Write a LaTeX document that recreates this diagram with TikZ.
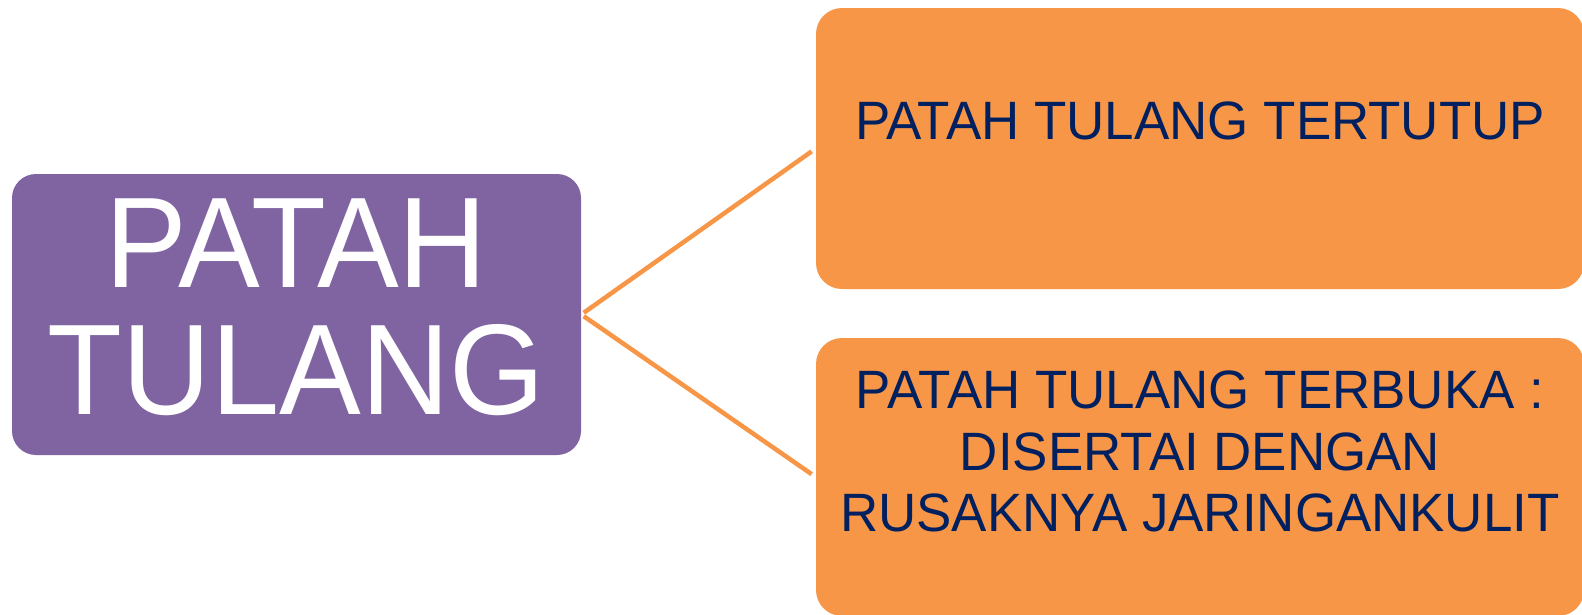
\documentclass[tikz,border=0pt]{standalone}
\usepackage{xcolor}
\usepackage{fontspec}
\usepackage{tikz}
\usetikzlibrary{calc}
\usetikzlibrary{positioning}
\newfontfamily\arialfont[FakeStretch=0.98]{Liberation Sans}
\newfontfamily\arialbigfont[FakeStretch=0.95]{Liberation Sans}
\definecolor{boxpurple}{HTML}{8064A2}
\definecolor{boxorange}{HTML}{F79646}
\definecolor{textnavy}{HTML}{002060}

\begin{document}
\begin{tikzpicture}[x=1pt,y=-1pt,semithick]
				\tikzstyle{mainbox}=[rectangle, rounded corners=24pt, fill=boxpurple, draw=none, minimum width=569pt, minimum height=281pt, inner sep=0pt]
				\tikzstyle{subbox}=[rectangle, rounded corners=26pt, fill=boxorange, draw=none, minimum width=768pt, inner sep=0pt]
				\tikzstyle{maintext}=[inner sep=0pt, align=center, text=white, font=\arialbigfont\fontsize{129}{127}\selectfont]
				\tikzstyle{subtext}=[inner sep=0pt, align=center, text=textnavy, font=\arialfont\fontsize{54}{61.5}\selectfont]
				\tikzstyle{link}=[-, draw=boxorange, line width=4.5pt, shorten <=3pt, shorten >=5pt]
				\useasboundingbox (0,0) rectangle (1582,614);
					\node[mainbox]                       (pt)  at (296.5,314.5) {};
					\node[subbox, minimum height=281pt]  (b1)  at (1200,148.5) {};
					\node[subbox, minimum height=278pt]  (b2)  at (1200,477) {};
					\node[maintext] (ptlabel) [below=25pt of pt.north] {PATAH\\TULANG};
					\node[subtext]  (b1label) [below=94pt of b1.north] {PATAH TULANG TERTUTUP};
					\node[subtext]  (b2label) [below=33pt of b2.north] {PATAH TULANG TERBUKA :\\DISERTAI DENGAN\\RUSAKNYA JARINGANKULIT};
					\path
								(pt.east) edge[link] (b1.west)
								(pt.east) edge[link] (b2.west);
				\end{tikzpicture}
\end{document}
